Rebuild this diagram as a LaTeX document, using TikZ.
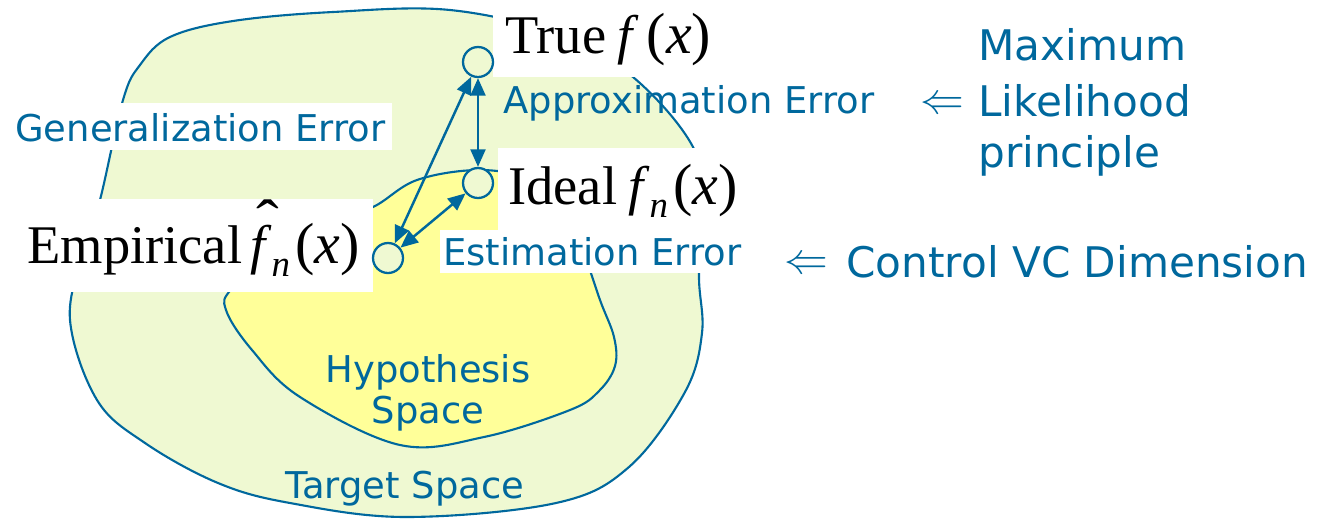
\documentclass[tikz,border=0pt]{standalone}
\usepackage{fontspec}
\usepackage{graphicx}
\setmainfont{Liberation Serif}
\newfontfamily\labelfont{DejaVu Sans}
\usetikzlibrary{arrows.meta}
\definecolor{tblue}{HTML}{00689D}
\definecolor{tgreen}{HTML}{EFF9D2}
\definecolor{tyellow}{HTML}{FFFF99}
\newcommand{\subn}{\raisebox{-0.24em}{\fontsize{21}{21}\selectfont\textit{n}}}
\newcommand{\argx}{{\fontsize{33}{36}\selectfont(\textit{x})}}
\newcommand{\fhat}{\makebox[0pt][l]{\hspace{0.12em}\raisebox{0.4em}{\scalebox{1.25}[1.1]{ˆ}}}\textit{f}}
\begin{document}
\begin{tikzpicture}[x=0.02cm,y=-0.02cm,
  blob/.style={draw=tblue, line width=1.2pt},
  wpatch/.style={fill=white},
  bluelbl/.style={inner sep=0pt, text=tblue, font=\labelfont\fontsize{21}{25}\selectfont},
  bigblue/.style={inner sep=0pt, text=tblue, font=\labelfont\fontsize{24}{29}\selectfont},
  arrsym/.style={inner sep=0pt, text=tblue, font=\fontsize{25.5}{30}\selectfont},
  serif/.style={inner sep=0pt, font=\fontsize{31}{36}\selectfont},
  pt/.style={circle, draw=tblue, fill=tgreen, line width=1.3pt, minimum size=0.6cm, inner sep=0pt},
  arr/.style={draw=tblue, line width=1.4pt, {Triangle[length=10pt,width=8.5pt]}-{Triangle[length=10pt,width=8.5pt]}}
]
\useasboundingbox (0,0) rectangle (1325,518);
% target space
\draw[blob, fill=tgreen] plot[smooth cycle, tension=0.6] coordinates {
  (70,320) (84,250) (100,200) (123,100) (140,65) (170,37) (233,21) (333,12)
  (450,10) (560,35) (633,77) (693,147) (702,210) (699,277) (702,333)
  (685,392) (629,467) (556,503) (406,517) (290,503) (218,483) (145,443) (97,400)};
% hypothesis space
\draw[blob, fill=tyellow] plot[smooth cycle, tension=0.6] coordinates {
  (373,207) (417,180) (480,170) (535,180) (565,205) (583,250) (600,300)
  (614,337) (615,366) (599,391) (570,410) (484,437) (400,445)
  (300,397) (252,350) (226,310) (232,288) (280,240) (330,220)};
% white patches
\fill[wpatch] (10,103) rectangle (392,150);
\fill[wpatch] (17,199) rectangle (373,292);
\fill[wpatch] (493,0) rectangle (720,77);
\fill[wpatch] (498,148) rectangle (748,230);
\fill[wpatch] (440,230) rectangle (747,273);
% labels
\node[bluelbl, anchor=base west] (gen) at (15,141) {Generalization Error};
\node[bluelbl, anchor=base west] (approx) at (503,113) {Approximation Error};
\node[bluelbl, anchor=base west] (est) at (443,265) {Estimation Error};
\node[bluelbl, anchor=base] (hyp1) at (428,382) {Hypothesis};
\node[bluelbl, anchor=base] (hyp2) at (428,423) {Space};
\node[bluelbl, anchor=base] (target) at (405,498) {Target Space};
\node[bigblue, anchor=base west] (ml1) at (978,60) {Maximum};
\node[bigblue, anchor=base west] (ml2) at (978,116) {Likelihood};
\node[bigblue, anchor=base west] (ml3) at (978,167) {principle};
\node[bigblue, anchor=base west] (vc) at (846,277) {Control VC Dimension};
\node[arrsym] (la1) at (942,105) {$\Leftarrow$};
\node[arrsym] (la2) at (806,265) {$\Leftarrow$};
\node[serif, anchor=base west] (truef) at (505,53) {True\hspace{0.2em}\textit{f}\hspace{0.15em}\argx};
\node[serif, anchor=base west] (idealf) at (508,204) {Ideal\hspace{0.2em}\textit{f}\subn\hspace{0.1em}\argx};
\node[serif, anchor=base west] (empf) at (27,263) {Empirical\hspace{0.15em}\fhat\subn\hspace{0.1em}\argx};
% points
\node[pt] (T) at (478,62) {};
\node[pt] (I) at (478,183) {};
\node[pt] (E) at (388,258) {};
% arrows
\draw[arr] (T) -- (I);
\draw[arr] (T) -- (E);
\draw[arr] (I) -- (E);
\end{tikzpicture}
\end{document}
